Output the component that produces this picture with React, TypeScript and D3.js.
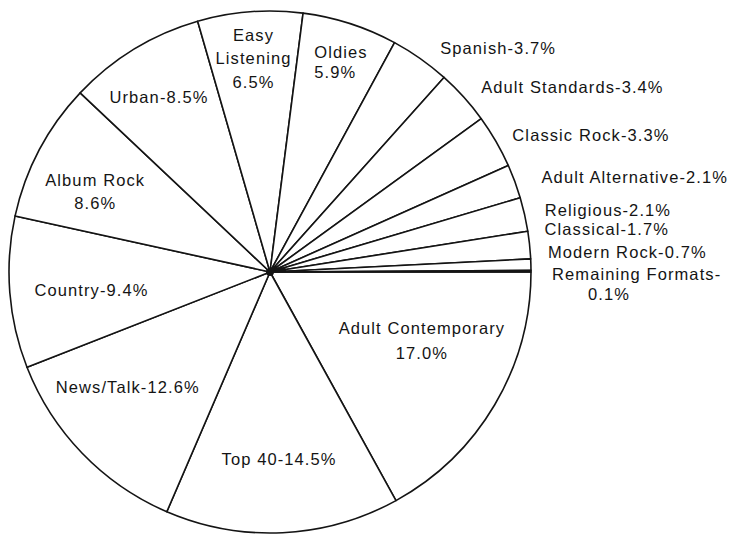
import React from "react";
import * as d3 from "d3";

// ---- data (clockwise from 3 o'clock) ----
const formats = [
  "Adult Contemporary",
  "Top 40",
  "News/Talk",
  "Country",
  "Album Rock",
  "Urban",
  "Easy Listening",
  "Oldies",
  "Spanish",
  "Adult Standards",
  "Classic Rock",
  "Adult Alternative",
  "Religious",
  "Classical",
  "Modern Rock",
  "Remaining Formats",
];
const shares = [17.0, 14.5, 12.6, 9.4, 8.6, 8.5, 6.5, 5.9, 3.7, 3.4, 3.3, 2.1, 2.1, 1.7, 0.7, 0.1];
const shareLabels = ["17.0%", "14.5%", "12.6%", "9.4%", "8.6%", "8.5%", "6.5%", "5.9%", "3.7%", "3.4%", "3.3%", "2.1%", "2.1%", "1.7%", "0.7%", "0.1%"];

// ---- layout ----
const W = 734;
const H = 534;
const CX = 270;
const CY = 272;
const R = 261;
const FONT = "'Liberation Sans', Arial, Helvetica, sans-serif";
const FS = 16.5;
const LS = 1.1;
const INK = "#141414";

type Lay = {
  out: boolean;
  rf: number; // radius factor
  dx: number;
  dy: number;
  lh?: number;
  anchor?: "start" | "middle";
  split: "dash" | "two" | "three" | "dashBreak";
  lineDx?: number[];
};

const layout: Lay[] = [
  { out: false, rf: 0.636, dx: 9, dy: -16, lh: 25, split: "two" },
  { out: false, rf: 0.716, dx: 0, dy: 0, split: "dash" },
  { out: false, rf: 0.70, dx: -11, dy: -12, split: "dash" },
  { out: false, rf: 0.686, dx: 0, dy: 4, split: "dash" },
  { out: false, rf: 0.736, dx: -5, dy: 9, lh: 23, split: "two" },
  { out: false, rf: 0.795, dx: -3, dy: 2, split: "dash" },
  { out: false, rf: 0.822, dx: 0, dy: 0, lh: 23.5, split: "three" },
  { out: false, rf: 0.851, dx: -24, dy: 1, lh: 20, anchor: "start", split: "two" },
  { out: true, rf: 1.046, dx: 13, dy: -1, split: "dash" },
  { out: true, rf: 1.046, dx: 8.5, dy: -2, split: "dash" },
  { out: true, rf: 1.046, dx: 6, dy: 0, split: "dash" },
  { out: true, rf: 1.046, dx: 15.5, dy: 0, split: "dash" },
  { out: true, rf: 1.046, dx: 8.5, dy: -2, split: "dash" },
  { out: true, rf: 1.046, dx: 3, dy: -15, split: "dash" },
  { out: true, rf: 1.046, dx: 5, dy: -12, split: "dash" },
  { out: true, rf: 1.046, dx: 9, dy: 2.5, lh: 20, split: "dashBreak", lineDx: [0, 36] },
];

function linesFor(i: number): string[] {
  const n = formats[i];
  const v = shareLabels[i];
  const s = layout[i].split;
  if (s === "dash") return [`${n}-${v}`];
  if (s === "two") return [n, v];
  if (s === "three") return [...n.split(" "), v];
  return [`${n}-`, v];
}

export default function App() {
  const pie = d3
    .pie<number>()
    .sort(null)
    .value((d) => d)
    .startAngle(Math.PI / 2)
    .endAngle(Math.PI / 2 + 2 * Math.PI);
  const arcs = pie(shares);
  const arc = d3.arc<d3.PieArcDatum<number>>().innerRadius(0).outerRadius(R);

  // dark blob where the thin slices converge
  const blobArc = d3
    .arc()
    .innerRadius(0)
    .outerRadius(16)
    .startAngle(arcs[12].startAngle)
    .endAngle(arcs[15].endAngle);

  return (
    <svg
      width={W}
      height={H}
      viewBox={`0 0 ${W} ${H}`}
      style={{ position: "absolute", left: 0, top: 0, background: "#fff" }}
    >
      <rect x={0} y={0} width={W} height={H} fill="#fff" />
      <g transform={`translate(${CX},${CY})`}>
        {arcs.map((a, i) => (
          <path
            key={formats[i]}
            d={arc(a) || ""}
            fill="#fff"
            stroke={INK}
            strokeWidth={1.6}
            strokeLinejoin="round"
          />
        ))}
        <path d={(blobArc as any)() || ""} fill={INK} />
        <circle r={4} fill={INK} />
        {arcs.map((a, i) => {
          const L = layout[i];
          const mid = (a.startAngle + a.endAngle) / 2;
          const rho = L.rf * R;
          const x = Math.sin(mid) * rho + L.dx;
          const y = -Math.cos(mid) * rho + L.dy;
          const lines = linesFor(i);
          const lh = L.lh ?? 22;
          const anchor = L.out ? "start" : L.anchor ?? "middle";
          return (
            <text
              key={"t" + formats[i]}
              textAnchor={anchor}
              fontFamily={FONT}
              fontSize={FS}
              letterSpacing={LS}
              fill={INK}
            >
              {lines.map((ln, j) => (
                <tspan
                  key={j}
                  x={x + (L.lineDx ? L.lineDx[j] : 0)}
                  y={y + (j - (L.out ? 0 : (lines.length - 1) / 2)) * lh + 6}
                >
                  {ln}
                </tspan>
              ))}
            </text>
          );
        })}
      </g>
    </svg>
  );
}
